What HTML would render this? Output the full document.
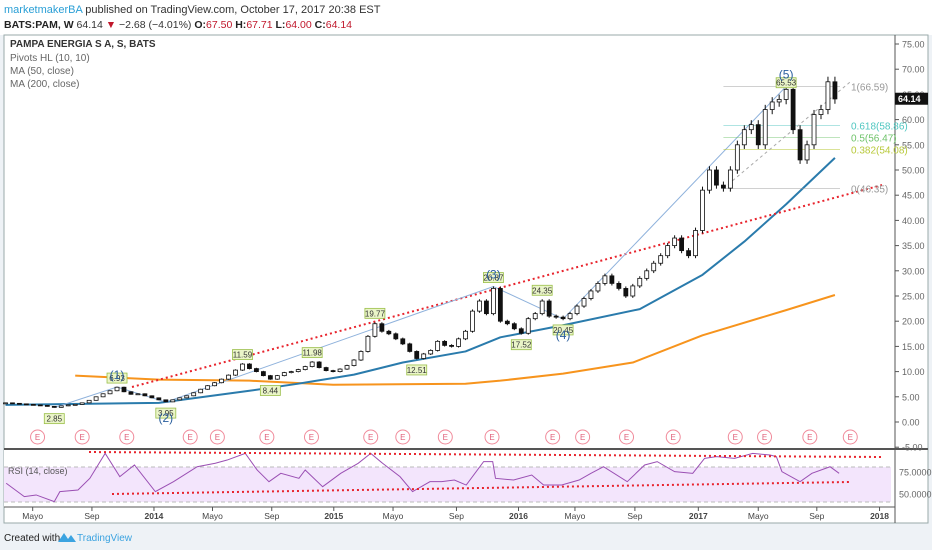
<!DOCTYPE html>
<html><head><meta charset="utf-8"><style>
body{margin:0;width:932px;height:550px;background:#eef2f6;font-family:"Liberation Sans",sans-serif;overflow:hidden;position:relative}
.hdr{position:absolute;left:0;top:0;width:932px;height:35px;background:#fff}
</style></head><body>
<div class="hdr"></div>
<svg id="c" width="932" height="550" style="position:absolute;left:0;top:0">
<text x="4" y="13" font-size="11"><tspan fill="#2a9fd6">marketmakerBA</tspan><tspan fill="#333"> published on TradingView.com, October 17, 2017 20:38 EST</tspan></text>
<text x="4" y="28" font-size="10.5"><tspan fill="#222" font-weight="bold">BATS:PAM, W </tspan><tspan fill="#333"> 64.14 </tspan><tspan fill="#c0172b">▼</tspan><tspan fill="#333"> −2.68 (−4.01%) </tspan><tspan fill="#222" font-weight="bold">O:</tspan><tspan fill="#c0172b">67.50 </tspan><tspan fill="#222" font-weight="bold">H:</tspan><tspan fill="#c0172b">67.71 </tspan><tspan fill="#222" font-weight="bold">L:</tspan><tspan fill="#c0172b">64.00 </tspan><tspan fill="#222" font-weight="bold">C:</tspan><tspan fill="#c0172b">64.14</tspan></text>
<rect x="4" y="35" width="924" height="488" fill="#fff" stroke="#9aa"/>
<rect x="4" y="449" width="891" height="58" fill="#fff"/>
<rect x="4" y="467" width="887" height="35" fill="#f3e5fc"/>
<line x1="4" y1="467" x2="891" y2="467" stroke="#bbb" stroke-dasharray="4,3"/>
<line x1="4" y1="502" x2="891" y2="502" stroke="#bbb" stroke-dasharray="4,3"/>
<line x1="4" y1="449" x2="928" y2="449" stroke="#555" stroke-width="2"/>
<line x1="895" y1="35" x2="895" y2="523" stroke="#555"/>
<line x1="4" y1="507" x2="895" y2="507" stroke="#555"/>
<text x="10" y="47" font-size="10" fill="#333" font-weight="bold">PAMPA ENERGIA S A, S, BATS</text>
<text x="10" y="61" font-size="10" fill="#666">Pivots HL (10, 10)</text>
<text x="10" y="74" font-size="10" fill="#666">MA (50, close)</text>
<text x="10" y="87" font-size="10" fill="#666">MA (200, close)</text>
<text x="8" y="474" font-size="9" fill="#555">RSI (14, close)</text>
<g id="g"></g>
<text x="4" y="541" font-size="10" fill="#222">Created with</text>
<path d="M58 542 l6-9 4 6 3-4 5 7z" fill="#3ba3e0"/>
<text x="77" y="541" font-size="10" fill="#3ba3e0">TradingView</text>
</svg>
<script>
const closes=[3.8,3.7,3.6,3.5,3.4,3.3,3.1,2.9,3.2,3.4,3.5,3.8,4.3,5.0,5.6,6.2,6.9,6.0,5.5,5.6,5.2,4.8,4.4,4.0,4.4,4.8,5.2,5.8,6.5,7.2,7.8,8.5,9.3,10.3,11.5,10.6,10.0,9.2,8.5,9.2,9.8,10.0,10.4,11.0,11.9,10.8,10.2,10.0,10.5,11.2,12.3,14.0,17.0,19.5,18.0,17.5,16.5,15.5,14.0,12.6,13.5,14.2,16.0,15.2,15.0,16.5,18.0,22.0,24.0,21.5,26.5,20.0,19.5,18.5,17.6,20.5,21.5,24.0,21.0,20.8,20.5,21.5,23.0,24.5,26.0,27.5,29.0,27.5,26.5,25.0,27.0,28.5,30.0,31.5,33.0,35.0,36.5,34.0,33.0,38.0,46.0,50.0,47.0,46.4,50.0,55.0,58.0,59.0,55.0,62.0,63.5,64.0,66.0,58.0,52.0,55.0,61.0,62.0,67.5,64.1];
const ma50Idx=[0,22,35,42,50,57,66,71,80,91,100,106,112,119];
const ma50Val=[3.4,3.8,6.2,7.6,9.4,11.8,14.0,16.8,19.2,22.4,29.2,35.8,43.2,52.4];
const ma200Idx=[10,22,35,47,66,71,80,90,100,112,119];
const ma200Val=[9.2,8.4,8.2,7.4,7.6,8.2,9.6,11.8,17.2,22.2,25.2];
const rsiIdx=[0.1,2.7,4.4,7,7.8,10.4,12.1,14.3,16.4,18.5,21.5,24.1,27.5,30.1,31.8,34.4,36.1,37.8,39.5,42.1,43,45.5,48.1,50.6,52.4,54.1,56.6,58.4,60.9,62.6,64.4,66.1,68.6,69.9,70.3,72.9,75.5,77.2,79.8,82.3,84,85.8,89.2,91.7,93.5,96,98.6,100.3,102,104.6,107.2,109.7,110.6,111.4,114,115.7,118.3,119.6];
const rsiVal=[62.2,47,48.9,41.3,52.7,54.5,67.8,96.2,69.7,83,52.7,64,81,84.9,88.6,96.2,77.3,64,73.5,67.8,77.3,58.3,73.5,84.9,96.2,84.9,69.7,52.7,64,64,65.9,60.2,86.8,86.8,67.8,65.9,71.6,60.2,60.2,65.9,73.5,81,64,83,86.8,75.4,73.5,90.5,92.4,90.5,96.2,94.3,92.4,75.4,64,73.5,81,73.5];
const pivotIdx=[7,16,23,34,38,44,53,59,70,74,77,80,112];
const pivotVal=[2.85,6.93,3.95,11.59,8.44,11.98,19.77,12.51,26.87,17.52,24.35,20.45,65.53];
const pivotHigh=[0,1,0,1,0,1,1,0,1,0,1,0,1];
const waveIdx=[7,16,23,70,80,112];
const waveVal=[2.85,6.93,3.95,26.87,20.45,66.59];
const waveNames=["(1)","(2)","(3)","(4)","(5)"];
const fibLevels=[1,0.618,0.5,0.382,0];
const fibLow=46.35, fibHigh=66.59;
const earnIdx=[4.6,11,17.4,26.5,30.4,37.5,43.9,52.4,57,63.1,69.8,78.5,82.8,89.1,95.8,104.7,108.9,115.4,121.2];
const priceTicks=[75,70,65,60,55,50,45,40,35,30,25,20,15,10,5,0,-5];
const timeLabels=["Mayo","Sep","2014","Mayo","Sep","2015","Mayo","Sep","2016","Mayo","Sep","2017","Mayo","Sep","2018"];
const timeIdx=[3.9,12.4,21.3,29.7,38.2,47.1,55.6,64.7,73.6,81.7,90.3,99.4,108,116.4,125.4];

const NS="http://www.w3.org/2000/svg",g=document.getElementById('g');
const X=i=>5.5+i*6.97, Y=p=>422-p*5.04, RY=v=>494-(v-50)*0.88;
function el(t,a,txt){const e=document.createElementNS(NS,t);for(const k in a)e.setAttribute(k,a[k]);if(txt!==undefined)e.textContent=txt;g.appendChild(e);return e;}
priceTicks.forEach(v=>{const y=Y(v);
 let t=el('line',{x1:895,y1:y,x2:899,y2:y,stroke:'#555'});
 t=el('text',{x:902,y:y+3.5,'font-size':9,fill:'#666'},v.toFixed(2));
 
 });
[[75,472],[50,494]].forEach(a=>{const t=el('text',{x:899,y:a[1]+3.5,'font-size':9,fill:'#666'},a[0].toFixed(4));
 
 });
timeLabels.forEach((s,k)=>{const x=X(timeIdx[k]);const bold=/^\d/.test(s);
 el('line',{x1:x,y1:507,x2:x,y2:511,stroke:'#555'});
 const t=el('text',{x:x,y:519,'font-size':8.5,fill:'#444','text-anchor':'middle','font-weight':bold?'bold':'normal'},s);
 
 });
earnIdx.forEach(i=>{const x=X(i);
 const c=el('circle',{cx:x,cy:437,r:7,fill:'#fff',stroke:'#f08a9a'});
 
 
 el('text',{x:x,y:440,'font-size':8,fill:'#e0607a','text-anchor':'middle'},'E');});
function poly(ix,vv,col,w,name){const p=el('polyline',{points:ix.map((i,k)=>X(i)+','+Y(vv[k])).join(' '),fill:'none',stroke:col,'stroke-width':w,'stroke-linejoin':'round'});
 
 }
poly(ma200Idx,ma200Val,'#f7941d',2,'ma200-line');
poly(ma50Idx,ma50Val,'#2a7bac',2,'ma50-line');
let tl=el('line',{x1:132,y1:387,x2:882,y2:185,stroke:'#e8232c','stroke-width':2,'stroke-dasharray':'2,3'});


const wv=el('polyline',{points:waveIdx.map((i,k)=>X(i)+','+Y(waveVal[k])).join(' '),fill:'none',stroke:'#8fb2dc','stroke-width':1});


const fibCols=['#999','#4fc6c0','#6fc36a','#b8c93a','#999'];
fibLevels.forEach((f,k)=>{const p=fibLow+(fibHigh-fibLow)*f,y=Y(p);
 const l=el('line',{x1:X(103),y1:y,x2:840,y2:y,stroke:fibCols[k],'stroke-width':0.8,opacity:0.6});
 
 
 const t=el('text',{x:851,y:y+4,'font-size':10,fill:fibCols[k]},f+'('+p.toFixed(2)+')');
 
 });
el('line',{x1:X(103),y1:Y(fibLow),x2:852,y2:Y(fibHigh)-6,stroke:'#aaa','stroke-dasharray':'3,3'});
closes.forEach((c,i)=>{const o=i?closes[i-1]:c,x=X(i),hi=Math.max(o,c)*1.015,lo=Math.min(o,c)*0.985;
 el('line',{x1:x,y1:Y(hi),x2:x,y2:Y(lo),stroke:'#111'});
 const top=Y(Math.max(o,c)),h=Math.max(1,Y(Math.min(o,c))-top);
 const r=el('rect',{x:x-2,y:top,width:4,height:h,fill:c>=o?'#fff':'#111',stroke:'#111','stroke-width':0.8});
 
 });
pivotIdx.forEach((i,k)=>{const x=X(i),v=pivotVal[k],hi=pivotHigh[k];const y=hi?Y(v)-14:Y(v)+6;
 el('rect',{x:x-10,y:y,width:20,height:10,fill:'#eaf5c8',stroke:'#9bbf4a','stroke-width':0.8});
 const t=el('text',{x:x,y:y+8,'font-size':8,fill:'#333','text-anchor':'middle'},v.toFixed(2));
 
 });
waveNames.forEach((s,k)=>{const i=waveIdx[k+1],v=waveVal[k+1],down=(k%2===1);
 const t=el('text',{x:X(i),y:down?Y(v)+20:Y(v)-8,'font-size':12,fill:'#2a5f9e','text-anchor':'middle'},s);
 
 });
el('rect',{x:895,y:Y(64.14)-6,width:33,height:12,fill:'#111'});
el('text',{x:898,y:Y(64.14)+3.5,'font-size':9,fill:'#fff','font-weight':'bold'},'64.14');
const rl=el('polyline',{points:rsiIdx.map((i,k)=>X(i)+','+RY(rsiVal[k])).join(' '),fill:'none',stroke:'#9a4fb3','stroke-width':1});


let r1=el('line',{x1:89,y1:452,x2:882,y2:457,stroke:'#e8232c','stroke-width':2,'stroke-dasharray':'2,3'});


let r2=el('line',{x1:112,y1:494,x2:849,y2:482,stroke:'#e8232c','stroke-width':2,'stroke-dasharray':'2,3'});


</script>
</body></html>
